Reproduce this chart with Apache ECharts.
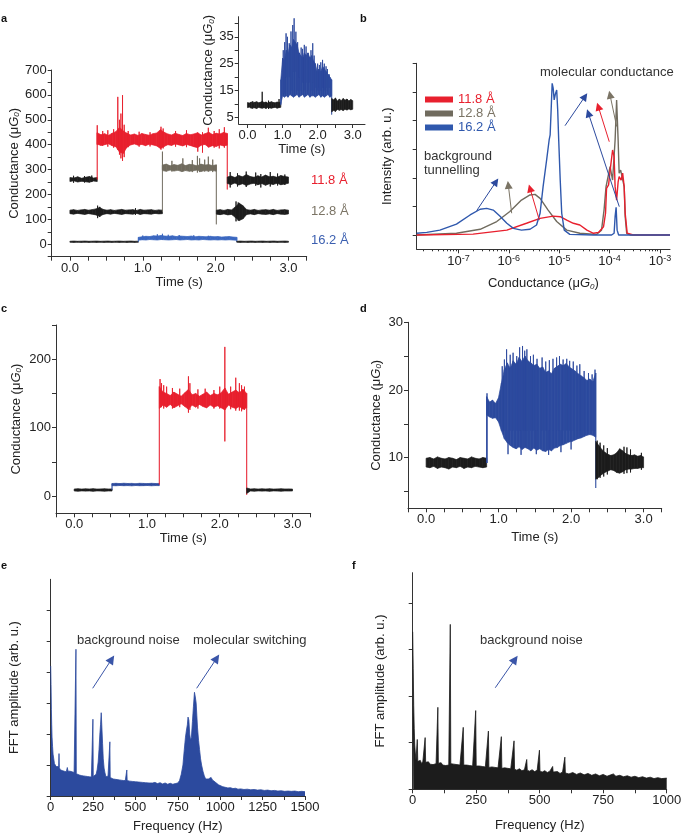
<!DOCTYPE html>
<html><head><meta charset="utf-8">
<script src="https://cdn.jsdelivr.net/npm/echarts@6/dist/echarts.min.js"></script>
<style>html,body{margin:0;padding:0;background:#fff}#c{width:685px;height:834px}</style>
</head><body><div id="c"></div>
<script>
// ---------- DATA ----------
// panel a : noise envelopes (upper / lower) per segment, Conductance (uG0); spikes = [t, low, high]
const a118PreHi = [268,266,271,265,269,272,266,268];
const a118PreLo = [252,255,250,253,251,249,254,252];
const a118PreSpk = [[0.05,247,275],[0.2,248,274],[0.3,250,276]];
const a118MolHi = [448,440,444,437,446,452,470,455,446,439,443,437,445,441,438,444,447,460,450,443,439,446,441,437,445,440,443,448,439,444,450,441,446,443,449,445];
const a118MolLo = [402,397,400,404,396,392,370,365,390,399,403,398,401,396,402,399,395,385,393,400,397,403,399,395,401,397,392,388,398,401,390,396,393,399,395,398];
const a118Spk = [[0.375,400,478],[0.45,395,455],[0.52,392,458],[0.6,388,462],[0.657,380,592],[0.68,360,500],[0.70,345,525],[0.722,335,599],[0.745,350,480],[0.8,390,455],[0.95,392,452],[1.1,393,450],[1.25,380,472],[1.28,385,465],[1.45,392,455],[1.6,390,458],[1.755,372,448],[1.82,368,450],[1.9,390,468],[1.98,388,455],[2.05,385,462],[2.12,388,470]];
const a118PostHi = [270,274,268,276,271,280,272,269,275,270,278,271,273,269,276,272,270];
const a118PostLo = [244,240,246,238,243,236,242,245,239,244,237,243,240,245,239,242,245];
const a118PostSpk = [[2.2,228,290],[2.3,232,285],[2.42,230,292],[2.55,235,288],[2.62,228,282],[2.75,232,290],[2.85,236,284],[2.95,238,280]];
const a128PreHi = [137,139,136,138,140,137,139,142,148,140,137,139,136,138,140,137,138,139,136,140,137,138,139,136,138,137];
const a128PreLo = [123,121,124,122,120,123,121,118,112,120,123,121,124,122,120,123,122,121,124,120,123,122,121,124,122,123];
const a128PreSpk = [[0.38,105,155],[0.41,110,150],[0.9,118,145]];
const a128MolHi = [318,322,315,320,317,323,316,321,319,315,322,318,320,316,319];
const a128MolLo = [296,293,298,294,297,292,296,293,295,298,292,296,294,297,293];
const a128Spk = [[1.27,300,372],[1.4,292,335],[1.55,292,345],[1.68,290,338],[1.75,288,355],[1.78,290,345],[1.85,292,340],[1.9,292,352],[1.96,290,340]];
const a128PostHi = [137,139,136,140,138,150,165,155,139,137,140,136,138,139,137,140,136,138,139,137];
const a128PostLo = [121,119,122,118,120,108,95,102,120,122,119,123,121,120,122,119,123,121,120,122];
const a128PostSpk = [[2.28,92,172],[2.31,95,168],[2.34,100,160]];
const a162PreHi = [12,13,12,12.5,13,12,12.5,13,12,12.5,13,12,12.5,13,12,12.5,13,12,12.5];
const a162PreLo = [8,7.5,8,7.5,8,7.5,8,7.5,8,7.5,8,7.5,8,7.5,8,7.5,8,7.5,8];
const a162MolHi = [28,30,32,31,34,33,35,33,32,34,31,33,32,31,33,30,32,31,30,32,30,31,29,30,31,29,28];
const a162MolLo = [16,18,17,19,18,17,19,18,17,18,19,17,18,19,17,18,17,19,18,17,18,17,18,17,18,17,16];
const a162Spk = [[1.0,17,35],[1.2,18,40],[1.27,18,42],[1.35,18,38],[1.5,18,37],[1.7,18,36],[1.9,17,34]];
const a162PostHi = [12,13,12,12.5,13,12,12.5,13,12,12.5,13,12,12.5,13,12];
const a162PostLo = [8,7.5,8,7.5,8,7.5,8,7.5,8,7.5,8,7.5,8,7.5,8];
// segment boundaries (s), baseline before the step, value reached by the falling edge
const aSeg118 = [0, 0.375, 2.16, 3.0];
const aSeg128 = [0, 1.27, 2.01, 3.0];
const aSeg162 = [0, 0.94, 2.29, 3.0];
const aLevels = [260, 130, 10];
const aDrops = [220, 80, 10];
const aLabels = ['11.8 Å', '12.8 Å', '16.2 Å'];

// inset of a
const inPreHi = [10.5,10.3,10.7,10.4,10.6,10.8,10.4,10.6,10.9,10.5,10.7,10.3,10.6,10.8,10.5,10.4,10.7,10.5,10.6];
const inPreLo = [8.6,8.8,8.4,8.7,8.5,8.3,8.7,8.5,8.4,8.6,8.3,8.7,8.5,8.4,8.6,8.7,8.4,8.6,8.7];
const inPreSpk = [[0.42,9,14.5],[0.9,8.8,11.8],[0.15,8.2,11],[0.6,8.1,11.2]];
const inMolHi = [19,27,26,30,29,32,31,34,33,32,29,28,27,29,28,29,27,28,26,25,22,23,22,24,23,22,21,20,19];
const inMolLo = [10,13,12.5,13,12.5,13.5,13,12.5,13,13.5,12.5,13,13.5,12.5,13,13.5,12.5,13,13,12.5,13,13.5,12.5,13,12.5,13,13.5,12.5,13];
const inMolSpk = [[1.02,14,30],[1.06,14,33],[1.10,20,36.3],[1.14,14,35],[1.19,20,32.6],[1.24,15,37],[1.29,22,39.4],[1.33,22,41.9],[1.38,22,36.9],[1.43,15,33],[1.48,20,29],[1.53,15,31],[1.57,18,30.5],[1.62,15,32],[1.67,18,31.4],[1.72,15,29],[1.76,18,27.5],[1.81,15,30],[1.86,18,32.6],[1.9,15,28],[1.95,16,22.7],[2.0,15,25],[2.05,16,24.5],[2.09,15,25.5],[2.14,16,26.4],[2.19,15,25],[2.24,16,24],[2.28,15,23],[2.33,16,21]];
const inPostHi = [12,11.5,12.2,11,11.8,11.2,12,11.4,11.8,11.1,11.6,11.2];
const inPostLo = [7,7.6,7.2,8,7.6,7.9,7.5,8,7.7,8.1,7.8,8];
const inSeg = [0, 0.95, 2.40, 3.0];
const inStep = [9.5, 6];

// panel b : histograms, x = log10(conductance), y = intensity
const bGrey = [[-7.83,0],[-7.04,0.06],[-6.57,0.20],[-6.24,0.47],[-5.98,0.82],[-5.75,1.22],[-5.58,1.40],[-5.48,1.42],[-5.38,1.28],[-5.22,0.87],[-5.05,0.47],[-4.85,0.17],[-4.59,0.06],[-4.26,0.02],[-4.16,0.17],[-4.11,0.87],[-4.07,1.69],[-4.04,1.75],[-3.99,2.39],[-3.94,1.92],[-3.89,3.32],[-3.86,4.72],[-3.83,3.32],[-3.81,2.16],[-3.78,2.27],[-3.75,2.27],[-3.71,1.69],[-3.69,0.64],[-3.66,0.06],[-3.59,0],[-2.80,0]];
const bRed = [[-7.83,0],[-6.71,0.03],[-6.04,0.17],[-5.65,0.41],[-5.38,0.58],[-5.12,0.66],[-4.98,0.64],[-4.85,0.52],[-4.72,0.41],[-4.59,0.35],[-4.45,0.17],[-4.32,0.06],[-4.22,0.09],[-4.12,0.29],[-4.08,0.76],[-4.06,1.63],[-4.02,1.75],[-3.98,2.39],[-3.94,2.97],[-3.91,2.74],[-3.89,1.69],[-3.86,1.22],[-3.83,1.86],[-3.81,2.04],[-3.77,1.92],[-3.74,2.16],[-3.71,1.69],[-3.69,0.76],[-3.65,0.06],[-3.53,0],[-2.80,0]];
const bBlue = [[-7.83,0.06],[-7.63,0.09],[-7.37,0.17],[-7.04,0.38],[-6.77,0.70],[-6.57,0.90],[-6.44,0.93],[-6.31,0.87],[-6.18,0.66],[-6.04,0.41],[-5.91,0.23],[-5.75,0.17],[-5.58,0.20],[-5.45,0.35],[-5.38,0.76],[-5.32,1.69],[-5.25,2.62],[-5.20,3.32],[-5.18,3.50],[-5.16,4.37],[-5.14,5.30],[-5.12,5.13],[-5.10,4.72],[-5.08,4.90],[-5.05,5.07],[-5.03,4.37],[-5.01,3.32],[-4.98,1.92],[-4.95,0.76],[-4.90,0.17],[-4.79,0.02],[-4.32,0],[-3.96,0],[-3.91,0.06],[-3.89,0.64],[-3.87,0.97],[-3.85,0.17],[-3.82,0],[-2.80,0]];
const bNames = ['11.8 Å', '12.8 Å', '16.2 Å'];
const bTickLabels = [-7, -6, -5, -4, -3];
// arrows [from, to] in data coords, colour key
const bArrows = [
  [[-4.885,3.82],[-4.488,4.84],'blue'],
  [[-4.006,3.26],[-4.224,4.49],'red'],
  [[-3.859,3.79],[-3.992,4.90],'grey'],
  [[-3.807,0.99],[-4.422,4.26],'blue'],
  [[-6.639,0.85],[-6.255,1.86],'blue'],
  [[-5.944,0.76],[-6.011,1.75],'grey'],
  [[-5.395,0.52],[-5.580,1.63],'red']
];

// panel c
const cPreHi = [10.5,10.8,10.4,10.7,10.5,10.9,10.4,10.6,10.8,10.5,10.6];
const cPreLo = [7.6,7.3,7.7,7.4,7.6,7.2,7.7,7.5,7.3,7.6,7.5];
const cBlueHi = [18.5,18.8,18.4,18.9,18.5,18.7,18.3,18.8,18.6,18.4,18.8,18.5,18.6];
const cBlueLo = [15.4,15.2,15.6,15.3,15.5,15.1,15.6,15.3,15.4,15.6,15.2,15.5,15.4];
const cRedHi = [160,152,150,147,152,149,146,151,156,148,150,146,149,152,147,150,148,151,158,149,152,155,151,156,150];
const cRedLo = [128,133,130,134,129,132,135,131,127,133,130,134,131,129,133,130,132,129,126,133,130,128,131,127,129];
const cRedSpk = [[1.18,135,171],[1.2,130,165],[1.23,128,162],[1.27,130,160],[1.35,128,158],[1.45,130,157],[1.57,122,175],[1.59,126,165],[1.7,128,156],[1.8,130,157],[1.92,128,155],[2.0,128,160],[2.07,80,218],[2.15,127,160],[2.22,125,173],[2.27,125,165],[2.3,124,162],[2.34,126,160]];
const cPostHi = [12,10.5,10.8,10.4,10.7,10.5,10.8,10.4,10.6,10.8,10.5,10.6,10.4];
const cPostLo = [4,7.6,7.3,7.7,7.4,7.6,7.2,7.7,7.5,7.3,7.6,7.5,7.6];
const cSeg = [0, 0.52, 1.17, 2.37, 3.0];
const cStep = [9, 17, 2];

// panel d
const dPreHi = [9.9,10.0,9.8,10.1,9.9,9.8,10.0,9.9,9.7,10.0,9.9,9.8,10.1,9.9,9.8,10.0,9.9];
const dPreLo = [8.6,8.5,8.7,8.4,8.6,8.5,8.3,8.6,8.5,8.7,8.4,8.6,8.5,8.7,8.6,8.5,8.6];
const dBlueHi = [19.0,18.2,18.5,18.0,18.8,21.0,23.0,24.0,23.2,24.3,23.8,24.8,24.2,25.0,24.3,24.0,23.6,23.8,23.2,23.4,22.6,22.8,22.4,23.2,23.5,23.8,23.6,23.9,23.4,23.1,22.8,22.4,22.1,21.8,21.4,21.6,21.2,22.5];
const dBlueLo = [16.3,16.0,15.8,15.9,15.3,14.0,12.8,12.2,11.8,11.5,11.3,11.6,11.2,11.5,11.3,11.0,11.4,11.1,11.3,11.0,10.9,11.2,11.0,11.4,11.5,11.8,11.9,12.1,12.3,12.4,12.6,12.8,12.9,13.1,13.3,13.4,13.3,13.0];
const dBlueSpk = [[0.84,9.2,19.5],[1.05,14,23.5],[1.08,14,24.5],[1.11,14,26.0],[1.16,14,25.2],[1.2,14,25.5],[1.25,14,25.0],[1.29,14,26.3],[1.33,14,26.5],[1.36,14,25.8],[1.39,14,26.0],[1.44,14,25.0],[1.48,14,25.2],[1.53,14,24.6],[1.6,14,24.8],[1.65,14,24.2],[1.7,14,24.4],[1.75,14,24.6],[1.8,14,24.8],[1.84,14,25.0],[1.89,14,24.5],[1.94,14,24.6],[1.98,14,24.3],[2.03,14,24.2],[2.08,14,23.6],[2.12,14,23.8],[2.18,14,22.8],[2.24,14,22.5],[2.29,14,22.3],[2.33,14,23.0],[1.13,10.5,14],[1.31,10.4,14],[1.52,10.5,14],[1.69,10.4,14],[1.86,10.8,14],[2.0,11.2,14]];
const dPostHi = [12.4,11.8,11.2,10.8,10.5,10.3,10.4,10.7,11.3,11.0,10.6,10.4,10.3,10.4,10.2,10.3,10.1];
const dPostLo = [6.8,7.1,7.5,7.8,8.0,8.2,8.1,7.8,7.7,7.9,8.2,8.3,8.3,8.4,8.4,8.5,8.5];
const dPostSpk = [[2.36,6.8,12.5],[2.4,7.0,12.2],[2.45,7.2,11.8],[2.5,7.5,11.4],[2.73,7.6,11.6],[2.77,7.7,11.5],[2.82,7.8,11.2],[2.97,8.2,10.7]];
const dSeg = [0, 0.835, 2.34, 3.0];
const dStep = [9.2, 5.5];

// panel e : FFT [Hz, amplitude]
const eSpec = [[0,4.2],[2,3.6],[4,2.8],[6,2.3],[8,1.9],[11,1.6],[14,1.35],[18,1.2],[22,1.05],[27,1.1],[32,0.95],[37,1.0],[42,0.9],[47,0.95],[49,1.37],[51,0.92],[56,0.85],[62,0.9],[68,0.82],[74,0.86],[80,0.8],[86,0.84],[92,0.78],[98,0.92],[102,0.8],[108,0.76],[114,0.8],[120,0.74],[126,0.78],[132,0.72],[138,0.76],[144,0.7],[149,4.74],[151,0.72],[156,0.7],[162,0.74],[168,0.68],[174,0.72],[180,0.66],[186,0.7],[192,0.65],[198,0.68],[204,0.64],[210,0.67],[216,0.63],[222,0.66],[228,0.62],[234,0.65],[240,0.61],[246,0.64],[249,2.48],[251,0.63],[256,0.62],[262,0.66],[268,0.7],[274,0.85],[280,1.1],[285,1.5],[290,2.0],[294,2.3],[298,2.69],[302,2.2],[306,1.7],[310,1.2],[315,0.9],[320,0.75],[326,0.62],[332,0.6],[338,0.64],[344,0.58],[349,1.75],[351,0.6],[356,0.57],[362,0.6],[368,0.55],[374,0.58],[380,0.54],[386,0.57],[392,0.53],[398,0.56],[404,0.52],[410,0.55],[416,0.51],[422,0.54],[428,0.5],[434,0.53],[440,0.5],[446,0.52],[449,0.84],[451,0.5],[458,0.52],[466,0.48],[474,0.51],[482,0.47],[490,0.5],[500,0.46],[510,0.49],[520,0.45],[530,0.48],[540,0.44],[550,0.47],[560,0.43],[570,0.46],[580,0.42],[590,0.45],[600,0.42],[615,0.44],[630,0.4],[645,0.43],[660,0.39],[675,0.42],[690,0.38],[705,0.41],[720,0.38],[735,0.4],[750,0.42],[760,0.5],[770,0.7],[780,1.0],[788,1.5],[795,1.9],[800,2.1],[806,2.3],[810,2.55],[815,2.45],[820,2.0],[825,1.8],[830,1.9],[836,2.4],[842,2.9],[848,3.35],[853,3.2],[858,3.0],[862,2.6],[866,2.2],[872,1.8],[878,1.5],[884,1.2],[890,1.0],[898,0.8],[906,0.65],[914,0.55],[922,0.5],[930,0.55],[938,0.5],[946,0.6],[954,0.52],[962,0.56],[970,0.45],[980,0.4],[990,0.36],[1000,0.33],[1015,0.3],[1030,0.28],[1045,0.26],[1060,0.27],[1075,0.24],[1090,0.25],[1105,0.22],[1120,0.23],[1140,0.21],[1160,0.22],[1180,0.2],[1200,0.21],[1220,0.19],[1240,0.2],[1260,0.18],[1280,0.19],[1300,0.17],[1320,0.18],[1340,0.16],[1360,0.17],[1380,0.15],[1400,0.16],[1420,0.15],[1440,0.16],[1460,0.14],[1480,0.15],[1500,0.14]];
const eArrows = [[[247.7,3.48],[359.8,4.42]], [[861,3.48],[979,4.45]]];

// panel f : FFT [Hz, amplitude]
const fSpec = [[0,3.38],[2,2.6],[4,1.8],[6,1.3],[8,0.95],[10,0.8],[13,0.62],[16,0.58],[18,1.07],[20,0.6],[25,0.58],[30,0.62],[35,0.55],[40,0.6],[45,0.57],[49,1.11],[51,0.58],[56,0.55],[62,0.59],[68,0.54],[74,0.58],[80,0.53],[86,0.57],[92,0.55],[99,1.76],[101,0.56],[106,0.53],[112,0.57],[118,0.52],[124,0.56],[130,0.51],[136,0.55],[142,0.52],[148,3.54],[150,0.55],[156,0.51],[162,0.54],[168,0.5],[174,0.53],[180,0.49],[186,0.52],[192,0.5],[199,1.33],[201,0.52],[206,0.49],[212,0.52],[218,0.48],[224,0.51],[230,0.47],[236,0.5],[242,0.48],[248,1.69],[250,0.5],[256,0.47],[262,0.5],[268,0.46],[274,0.49],[280,0.45],[286,0.48],[292,0.46],[298,1.25],[300,0.47],[306,0.45],[312,0.48],[318,0.44],[324,0.47],[330,0.43],[336,0.46],[342,0.44],[349,1.13],[351,0.45],[356,0.43],[362,0.46],[368,0.42],[374,0.45],[380,0.41],[386,0.44],[392,0.42],[399,1.04],[401,0.43],[410,0.41],[420,0.44],[430,0.4],[440,0.42],[449,0.64],[451,0.41],[460,0.39],[470,0.42],[480,0.38],[490,0.41],[499,0.84],[501,0.39],[510,0.37],[520,0.4],[530,0.36],[540,0.39],[551,0.49],[553,0.37],[560,0.35],[570,0.38],[580,0.34],[590,0.37],[599,0.69],[601,0.35],[615,0.33],[630,0.36],[645,0.32],[660,0.35],[675,0.31],[690,0.34],[705,0.3],[720,0.33],[735,0.29],[750,0.32],[765,0.28],[780,0.31],[790,0.33],[800,0.28],[815,0.3],[830,0.27],[845,0.29],[860,0.26],[875,0.28],[890,0.25],[905,0.27],[920,0.24],[935,0.26],[950,0.23],[965,0.25],[980,0.23],[1000,0.24]];
const fArrows = [[[325,2.18],[403,2.79]]];

// ---------- STYLE ----------
const F = "'Liberation Sans', Arial, sans-serif";
const RED = '#e8202e', GREY = '#706b5e', BLUE = '#2c4a9e', BLUEA = '#3b67c0', BLUEB = '#2f58ad', BLK = '#1c1c1c', AX = '#333', TXT = '#222';
const COL = {red: RED, grey: '#7b7465', blue: BLUE};

// noisy trace: filled band between lower/upper envelopes + thin spikes
function band(name, xi, yi, t0, t1, hi, lo, color, from, to, spikes) {
  const n = Math.min(hi.length, lo.length);
  const step = (t1 - t0) / (n - 1);
  const pts = [];
  if (from !== undefined && from !== null) pts.push([t0, from, from]);
  for (let i = 0; i < n; i++) pts.push([t0 + step * i, lo[i], hi[i]]);
  if (to !== undefined && to !== null) pts.push([t1, to, to]);
  const items = [];
  for (let i = 0; i < pts.length - 1; i++) items.push(pts[i].concat(pts[i + 1], [0]));
  (spikes || []).forEach(s => items.push([s[0], s[1], s[2], s[0], s[1], s[2], 1]));
  return {
    type: 'custom', name, xAxisIndex: xi, yAxisIndex: yi, silent: true, animation: false, z: 3,
    encode: {x: [0, 3], y: [1, 2, 4, 5]},
    data: items,
    renderItem: (params, api) => {
      const a = api.coord([api.value(0), api.value(1)]);
      const b = api.coord([api.value(0), api.value(2)]);
      const c = api.coord([api.value(3), api.value(5)]);
      const d = api.coord([api.value(3), api.value(4)]);
      const spike = api.value(6) === 1;
      return {type: 'polygon', shape: {points: [a, b, c, d]}, style: {fill: color, stroke: color, lineWidth: spike ? 0.9 : 0.7}};
    }
  };
}
function line(name, xi, yi, data, color, w, extra) {
  return Object.assign({type: 'line', name, xAxisIndex: xi, yAxisIndex: yi, data, symbol: 'none', showSymbol: false,
    lineStyle: {color, width: w || 1}, itemStyle: {color}, color, silent: true, animation: false, z: 3}, extra || {});
}
const richName = {
  g: {fontSize: 13, fontStyle: 'italic', fontFamily: F, color: TXT},
  s: {fontSize: 8, fontStyle: 'italic', fontFamily: F, color: TXT, verticalAlign: 'bottom', padding: [6, 0, 0, 0]},
  sup: {fontSize: 9, fontFamily: F, color: TXT, verticalAlign: 'top', padding: [0, 0, 6, 0]}
};
const CONDN = 'Conductance (μ{g|G}{s|0})';
function axis(gi, min, max, labels, ticks, fmt, name, gap, extra) {
  const ax = {
    type: 'value', gridIndex: gi, min, max,
    axisLine: {show: true, onZero: false, lineStyle: {color: AX, width: 1}},
    axisTick: {show: true, customValues: ticks, length: 4, lineStyle: {color: AX, width: 1}},
    axisLabel: labels ? {show: true, customValues: labels, formatter: fmt, fontSize: 13, color: TXT, fontFamily: F, margin: 5, rich: richName} : {show: false},
    splitLine: {show: false},
    name: name || '', nameLocation: 'middle', nameGap: gap || 0,
    nameTextStyle: {fontSize: 13, color: TXT, fontFamily: F, rich: richName}
  };
  return Object.assign(ax, extra || {});
}
const f1 = v => v.toFixed(1);
const fs = v => String(v);
const q = [-0.25,0,0.25,0.5,0.75,1,1.25,1.5,1.75,2,2.25,2.5,2.75,3,3.25];

const bMinor = [];
for (let n = -8; n <= -3; n++) for (let k = 2; k <= 9; k++) { const v = n + Math.log10(k); if (v > -7.83 && v < -2.8) bMinor.push(v); }

const grid = (l, t, w, h) => ({left: l, top: t, width: w, height: h, containLabel: false, outerBoundsMode: 'none'});

// ---------- SERIES ----------
const series = [];
// panel a
series.push(band('a1', 0, 0, aSeg118[0], aSeg118[1], a118PreHi, a118PreLo, BLK, null, null, a118PreSpk));
series.push(band('a2', 0, 0, aSeg118[1], aSeg118[2], a118MolHi, a118MolLo, RED, aLevels[0], aDrops[0], a118Spk));
series.push(band('a3', 0, 0, aSeg118[2], aSeg118[3], a118PostHi, a118PostLo, BLK, null, null, a118PostSpk));
series.push(band('a4', 0, 0, aSeg128[0], aSeg128[1], a128PreHi, a128PreLo, BLK, null, null, a128PreSpk));
series.push(band('a5', 0, 0, aSeg128[1], aSeg128[2], a128MolHi, a128MolLo, GREY, aLevels[1], aDrops[1], a128Spk));
series.push(band('a6', 0, 0, aSeg128[2], aSeg128[3], a128PostHi, a128PostLo, BLK, null, null, a128PostSpk));
series.push(band('a7', 0, 0, aSeg162[0], aSeg162[1], a162PreHi, a162PreLo, BLK));
series.push(band('a8', 0, 0, aSeg162[1], aSeg162[2], a162MolHi, a162MolLo, BLUEA, aLevels[2], aDrops[2], a162Spk));
series.push(band('a9', 0, 0, aSeg162[2], aSeg162[3], a162PostHi, a162PostLo, BLK));
// inset
series.push(band('i1', 1, 1, inSeg[0], inSeg[1], inPreHi, inPreLo, BLK, null, null, inPreSpk));
series.push(band('i2', 1, 1, inSeg[1], inSeg[2], inMolHi, inMolLo, BLUE, inStep[0], inStep[1], inMolSpk));
series.push(band('i3', 1, 1, inSeg[2], inSeg[3], inPostHi, inPostLo, BLK));
// panel b
series.push(line(bNames[1], 2, 2, bGrey, GREY, 1.4));
series.push(line(bNames[0], 2, 2, bRed, RED, 1.4));
series.push(line(bNames[2], 2, 2, bBlue, BLUEB, 1.4, {
  markLine: {silent: true, animation: false, symbol: ['none', 'triangle'], symbolSize: 8,
    label: {show: false},
    data: bArrows.map(a => [{coord: a[0], lineStyle: {color: COL[a[2]], width: 1, type: 'solid'}, itemStyle: {color: COL[a[2]]}}, {coord: a[1]}])}
}));
// panel c
series.push(band('c1', 4, 3, cSeg[0], cSeg[1], cPreHi, cPreLo, BLK));
series.push(band('c2', 4, 3, cSeg[1], cSeg[2], cBlueHi, cBlueLo, BLUE, cStep[0]));
series.push(band('c3', 4, 3, cSeg[2], cSeg[3], cRedHi, cRedLo, RED, cStep[1], cStep[2], cRedSpk));
series.push(band('c4', 4, 3, cSeg[3], cSeg[4], cPostHi, cPostLo, BLK));
// panel d
series.push(band('d1', 5, 4, dSeg[0], dSeg[1], dPreHi, dPreLo, BLK));
series.push(band('d2', 5, 4, dSeg[1], dSeg[2], dBlueHi, dBlueLo, BLUE, dStep[0], dStep[1], dBlueSpk));
series.push(band('d3', 5, 4, dSeg[2], dSeg[3], dPostHi, dPostLo, BLK, null, null, dPostSpk));
// panels e, f
const arrowLine = (arr, col, head) => ({silent: true, animation: false, symbol: ['none', 'triangle'], symbolSize: 9, label: {show: false},
  data: arr.map(a => [{coord: a[0], lineStyle: {color: col, width: 1, type: 'solid'}, itemStyle: {color: head}}, {coord: a[1]}])});
series.push(line('e', 6, 5, eSpec, BLUE, 0.8, {areaStyle: {color: BLUE, opacity: 1}, markLine: arrowLine(eArrows, '#3a55a8', '#1d2a66')}));
series.push(line('f', 7, 6, fSpec, BLK, 0.8, {areaStyle: {color: BLK, opacity: 1}, markLine: arrowLine(fArrows, '#3a55a8', '#1d2a66')}));

// ---------- TEXT ----------
function txt(x, y, s, color, bold) {
  return {type: 'text', x, y, silent: true, style: {text: s, fill: color || TXT, font: (bold ? 'bold 11px ' : '13px ') + F, align: 'left', verticalAlign: 'middle'}};
}
const graphic = [
  txt(1, 19, 'a', '#111', true), txt(360, 19, 'b', '#111', true), txt(1, 309, 'c', '#111', true),
  txt(360, 309, 'd', '#111', true), txt(1, 566, 'e', '#111', true), txt(352, 566, 'f', '#111', true),
  txt(311, 180, aLabels[0], RED), txt(311, 211.5, aLabels[1], '#7b7465'), txt(311, 240, aLabels[2], '#3b5fb0'),
  txt(540, 72, 'molecular conductance', '#333'),
  txt(424, 156, 'background', '#333'), txt(424, 170, 'tunnelling', '#333'),
  txt(77, 640, 'background noise', '#333'), txt(193, 640, 'molecular switching', '#333'),
  txt(480, 640, 'background noise', '#333')
];

const option = {
  animation: false,
  backgroundColor: '#fff',
  textStyle: {fontFamily: F},
  grid: [
    grid(51.7, 70, 255, 186.7),
    grid(238.7, 16.7, 126.3, 107.3),
    grid(416.7, 63.3, 253.3, 186),
    grid(56, 325, 254.7, 188.3),
    grid(408, 322.3, 253.7, 186),
    grid(50.7, 579.3, 254.3, 216.7),
    grid(412.7, 572.7, 254, 216.6)
  ],
  xAxis: [
    axis(0, -0.25, 3.25, [0,1,2,3], q, f1, 'Time (s)', 17),
    axis(1, -0.25, 3.35, [0,1,2,3], [0,0.5,1,1.5,2,2.5,3], f1, 'Time (s)', 17),
    axis(2, -7.83, -2.8, bTickLabels, bTickLabels, v => '10{sup|' + v + '}', CONDN, 27),
    axis(2, -7.83, -2.8, null, bMinor, null, '', 0, {axisLine: {show: false, onZero: false}, axisTick: {show: true, customValues: bMinor, length: 2, lineStyle: {color: AX}}, position: 'bottom'}),
    axis(3, -0.25, 3.25, [0,1,2,3], q, f1, 'Time (s)', 19),
    axis(4, -0.25, 3.25, [0,1,2,3], q, f1, 'Time (s)', 23),
    axis(5, 0, 1500, [0,250,500,750,1000,1250,1500], [0,125,250,375,500,625,750,875,1000,1125,1250,1375,1500], fs, 'Frequency (Hz)', 24),
    axis(6, 0, 1000, [0,250,500,750,1000], [0,125,250,375,500,625,750,875,1000], fs, 'Frequency (Hz)', 30)
  ],
  yAxis: [
    axis(0, -50, 700, [0,100,200,300,400,500,600,700], [-50,0,50,100,150,200,250,300,350,400,450,500,550,600,650,700], fs, CONDN, 30),
    axis(1, 2.5, 42.5, [5,15,25,35], [5,10,15,20,25,30,35,40], fs, CONDN, 17),
    axis(2, -0.5, 6, null, [0,1,2,3,4,5,6], null, 'Intensity (arb. u.)', 23),
    axis(3, -25, 250, [0,100,200], [0,50,100,150,200,250], fs, CONDN, 33),
    axis(4, 2.5, 30, [10,20,30], [5,10,15,20,25,30], fs, CONDN, 25),
    axis(5, 0, 7, null, [0,1,2,3,4,5,6], null, 'FFT amplitude (arb. u.)', 30),
    axis(6, 0, 4.65, null, [0,1,2,3,4], null, 'FFT amplitude (arb. u.)', 26)
  ],
  legend: {
    left: 420, top: 88, orient: 'vertical', icon: 'rect', itemWidth: 28, itemHeight: 6, itemGap: 1, selectedMode: false,
    textStyle: {fontSize: 13, fontFamily: F},
    data: [{name: bNames[0], textStyle: {color: RED}}, {name: bNames[1], textStyle: {color: '#7b7465'}}, {name: bNames[2], textStyle: {color: BLUEB}}]
  },
  graphic,
  series
};
const chart = echarts.init(document.getElementById('c'), null, {renderer: 'canvas'});
chart.setOption(option);
</script></body></html>
